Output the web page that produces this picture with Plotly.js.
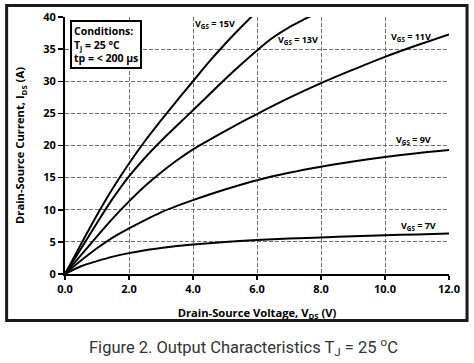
<!DOCTYPE html>
<html>
<head>
<meta charset="utf-8">
<script src="https://cdn.plot.ly/plotly-3.0.1.min.js"></script>
<style>
html,body{margin:0;padding:0;background:#fff;}
#chart{width:474px;height:363px;}
</style>
</head>
<body>
<div id="chart"></div>
<script>
// Output characteristics
const vds15 = [0, 0.5, 1.0, 1.5, 2.0, 2.5, 3.0, 3.5, 4.0, 4.5, 5.0, 5.5, 6.0];
const ids15 = [0, 4.65, 9.2, 13.4, 17.2, 20.7, 23.9, 27.0, 30.0, 33.0, 35.8, 38.4, 40.9];

const vds13 = [0, 0.5, 1.0, 1.5, 2.0, 2.5, 3.0, 3.5, 4.0, 4.5, 5.0, 5.5, 6.0, 6.5, 7.0, 7.5, 8.0];
const ids13 = [0, 3.95, 7.95, 11.8, 15.2, 18.1, 20.7, 23.1, 25.5, 27.9, 30.3, 32.6, 34.8, 36.8, 38.4, 39.7, 40.9];

const vds11 = [0, 0.5, 1.0, 1.5, 2.0, 2.5, 3.0, 3.5, 4.0, 4.5, 5.0, 5.5, 6.0, 7.0, 8.0, 9.0, 10.0, 11.0, 12.0];
const ids11 = [0, 2.95, 5.85, 8.7, 11.3, 13.7, 15.8, 17.7, 19.4, 20.85, 22.25, 23.6, 24.9, 27.4, 29.7, 31.8, 33.8, 35.6, 37.3];

const vds9 = [0, 0.5, 1.0, 1.5, 2.0, 2.5, 3.0, 3.5, 4.0, 5.0, 6.0, 7.0, 8.0, 9.0, 10.0, 11.0, 12.0];
const ids9 = [0, 2.1, 4.0, 5.7, 7.1, 8.4, 9.6, 10.6, 11.5, 13.15, 14.6, 15.75, 16.7, 17.5, 18.2, 18.8, 19.3];

const vds7 = [0, 0.5, 1.0, 1.5, 2.0, 2.5, 3.0, 3.5, 4.0, 5.0, 6.0, 7.0, 8.0, 9.0, 10.0, 11.0, 12.0];
const ids7 = [0, 1.2, 2.0, 2.7, 3.25, 3.7, 4.05, 4.35, 4.6, 5.0, 5.3, 5.52, 5.7, 5.87, 6.02, 6.16, 6.3];

const curveLabels = ['V<sub>GS</sub> = 15V', 'V<sub>GS</sub> = 13V', 'V<sub>GS</sub> = 11V', 'V<sub>GS</sub> = 9V', 'V<sub>GS</sub> = 7V'];
const xTitle = 'Drain-Source Voltage, V<sub>DS</sub> (V)';
const yTitle = 'Drain-Source Current, I<sub>DS</sub> (A)';
const conditionsText = 'Conditions:<br>T<sub>j</sub> = 25 °C<br>tp = < 200 µs';
const captionText = 'Figure 2. Output Characteristics T<sub>J</sub> = 25 <sup>o</sup>C';

const series = [[vds15, ids15], [vds13, ids13], [vds11, ids11], [vds9, ids9], [vds7, ids7]];
const traces = series.map(function(s){
  return {x: s[0], y: s[1], mode: 'lines', type: 'scatter',
          line: {color: '#000', width: 2, shape: 'spline', smoothing: 1},
          hoverinfo: 'skip', showlegend: false};
});

const lblFont = {family: 'Open Sans, DejaVu Sans, sans-serif', size: 9, color: '#000', weight: 'bold'};
const labelPos = [[4.69, 38.9], [7.28, 36.4], [10.8, 36.9], [10.9, 20.9], [11.05, 7.4]];
const annotations = curveLabels.map(function(t, i){
  return {text: t, x: labelPos[i][0], y: labelPos[i][1], xref: 'x', yref: 'y',
          showarrow: false, font: lblFont, xanchor: 'center', yanchor: 'middle'};
});
annotations.push({
  text: conditionsText, xref: 'paper', yref: 'paper', x: 0.012, y: 0.99,
  xanchor: 'left', yanchor: 'top', align: 'left', showarrow: false,
  font: {family: 'Open Sans, DejaVu Sans, sans-serif', size: 10.5, color: '#000', weight: 'bold'},
  bordercolor: '#000', borderwidth: 2, borderpad: 2, bgcolor: '#fff'
});
annotations.push({
  text: captionText, xref: 'paper', yref: 'paper', x: 0.0573, y: -0.285,
  xanchor: 'left', yanchor: 'middle', showarrow: false,
  font: {family: 'Roboto, sans-serif', size: 16.5, color: '#333'}
});

const tickFont = {family: 'Open Sans, DejaVu Sans, sans-serif', size: 11, color: '#000', weight: 'bold'};
const titleFont = {family: 'Open Sans, DejaVu Sans, sans-serif', size: 11.2, color: '#000', weight: 'bold'};

const layout = {
  width: 474, height: 363,
  margin: {l: 65, r: 25, t: 17, b: 88.5},
  paper_bgcolor: '#fff', plot_bgcolor: '#fff',
  showlegend: false,
  xaxis: {
    range: [0, 12], tick0: 0, dtick: 2, tickformat: '.1f',
    showline: true, linecolor: '#000', linewidth: 2,
    ticks: 'outside', ticklen: 4, tickwidth: 1.5, tickcolor: '#000',
    showgrid: true, gridcolor: '#6e6e6e', griddash: '4px,2px', gridwidth: 1,
    zeroline: false, tickfont: tickFont,
    title: {text: xTitle, font: titleFont, standoff: 14}
  },
  yaxis: {
    range: [0, 40], tick0: 0, dtick: 5,
    showline: true, linecolor: '#000', linewidth: 2,
    ticks: 'outside', ticklen: 5, tickwidth: 1.5, tickcolor: '#000',
    showgrid: true, gridcolor: '#6e6e6e', griddash: '4px,2px', gridwidth: 1,
    zeroline: false, tickfont: tickFont,
    title: {text: yTitle, font: titleFont, standoff: 16}
  },
  annotations: annotations,
  shapes: [{
    type: 'rect', xref: 'paper', yref: 'paper',
    x0: -0.152, x1: 1.047, y0: -0.181, y1: 1.045,
    line: {color: '#1a1a1a', width: 3}, fillcolor: 'rgba(0,0,0,0)', layer: 'above'
  }]
};

Plotly.newPlot('chart', traces, layout, {staticPlot: true, displayModeBar: false});
</script>
</body>
</html>
